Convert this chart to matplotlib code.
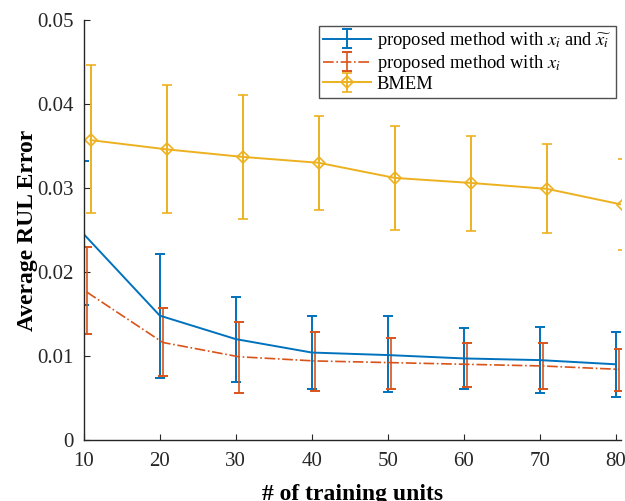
import numpy as np
import matplotlib.pyplot as plt

plt.rcParams['font.family'] = ['Liberation Serif', 'DejaVu Serif']
plt.rcParams['mathtext.fontset'] = 'stix'

# number of training units
units = [10, 20, 30, 40, 50, 60, 70, 80]

# proposed method with x_i and x~_i: mean, lower, upper
prop_both = [0.0245, 0.0148, 0.0120, 0.0104, 0.0101, 0.0097, 0.0095, 0.0090]
prop_both_lo = [0.0161, 0.0074, 0.0069, 0.0061, 0.0057, 0.0061, 0.0056, 0.0051]
prop_both_hi = [0.0332, 0.0221, 0.0170, 0.0147, 0.0147, 0.0133, 0.0134, 0.0128]

# proposed method with x_i only
prop_x = [0.0176, 0.0116, 0.0099, 0.0094, 0.0092, 0.0090, 0.0088, 0.0084]
prop_x_lo = [0.0126, 0.0076, 0.0056, 0.0058, 0.0060, 0.0063, 0.0060, 0.0058]
prop_x_hi = [0.0230, 0.0157, 0.0140, 0.0129, 0.0121, 0.0115, 0.0115, 0.0108]

# BMEM
bmem = [0.0357, 0.0346, 0.0337, 0.0330, 0.0312, 0.0306, 0.0299, 0.0280]
bmem_lo = [0.0270, 0.0270, 0.0263, 0.0274, 0.0250, 0.0249, 0.0246, 0.0226]
bmem_hi = [0.0446, 0.0423, 0.0411, 0.0386, 0.0374, 0.0362, 0.0352, 0.0335]


def err(mean, lo, hi):
    mean = np.array(mean)
    return np.vstack([mean - np.array(lo), np.array(hi) - mean])


x = np.array(units, dtype=float)

fig = plt.figure(figsize=(6.25, 5.01), dpi=100)
ax = fig.add_axes([0.134, 0.122, 0.86, 0.838])

ax.errorbar(x, prop_both, yerr=err(prop_both, prop_both_lo, prop_both_hi),
            color='#0072BD', lw=1.4, capsize=3.5, capthick=1.4,
            label=r'proposed method with $x_i$ and $\widetilde{x_i}$')
ax.errorbar(x + 0.4, prop_x, yerr=err(prop_x, prop_x_lo, prop_x_hi),
            color='#D95319', lw=1.2, ls='-.', capsize=3.5, capthick=1.4,
            label=r'proposed method with $x_i$')
ax.errorbar(x + 0.9, bmem, yerr=err(bmem, bmem_lo, bmem_hi),
            color='#EDB120', lw=1.4, capsize=3.5, capthick=1.4,
            marker='D', ms=6.5, mfc='none', mew=1.2,
            label='BMEM')

ax.set_xlim(10, 80.7)
ax.set_ylim(0, 0.05)
ax.set_xticks(units)
ax.set_yticks([0, 0.01, 0.02, 0.03, 0.04, 0.05])
ax.set_yticklabels(['0', '0.01', '0.02', '0.03', '0.04', '0.05'])

for s in ['top', 'right']:
    ax.spines[s].set_visible(False)
for s in ['left', 'bottom']:
    ax.spines[s].set_color('#262626')
    ax.spines[s].set_linewidth(1.0)
ax.tick_params(direction='in', length=4, labelsize=15, colors='#262626')
ax.tick_params(axis='x', pad=9)
ax.tick_params(axis='y', pad=7)

ax.set_xlabel('# of training units', fontsize=17, fontweight='bold',
              labelpad=9)
ax.set_ylabel('Average RUL Error', fontsize=17, fontweight='bold',
              labelpad=0)

leg = ax.legend(loc='upper right', fontsize=13.3, frameon=True, fancybox=False,
                edgecolor='#262626', borderaxespad=0.3, handlelength=2.6,
                borderpad=0.25, labelspacing=0.1, handletextpad=0.3)
leg.get_frame().set_linewidth(1.0)

fig.savefig('out.png', dpi=100)
